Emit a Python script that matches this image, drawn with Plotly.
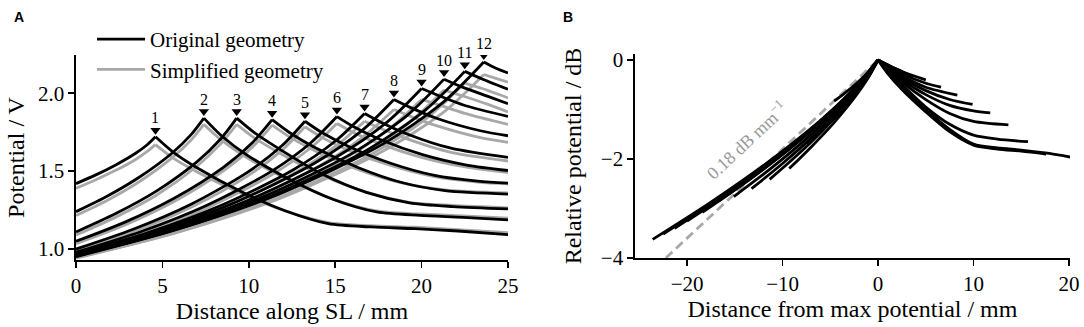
import numpy as np
import plotly.graph_objects as go

# ---------------- data ----------------
PEAK_LABELS = [str(i) for i in range(1, 13)]
PEAK_X = [4.6, 7.4, 9.3, 11.35, 13.25, 15.1, 16.7, 18.4, 20.0, 21.3, 22.5, 23.6]

RISE_X = [
    [0, 1.15, 2.3, 3.45, 4.14, 4.6],
    [0, 1.85, 3.7, 5.55, 6.66, 7.4],
    [0, 2.3, 4.65, 6.98, 8.37, 9.3],
    [0, 2.84, 5.68, 8.51, 10.22, 11.35],
    [0, 3.31, 6.63, 9.94, 11.93, 13.25],
    [0, 3.78, 7.55, 11.33, 13.59, 15.1],
    [0, 4.18, 8.35, 12.53, 15.03, 16.7],
    [0, 4.6, 9.2, 13.8, 16.56, 18.4],
    [0, 5, 10, 15, 18, 20],
    [0, 5.33, 10.65, 15.98, 19.17, 21.3],
    [0, 5.63, 11.25, 16.88, 20.25, 22.5],
    [0, 5.9, 11.8, 17.7, 21.24, 23.6],
]
FALL_X = [
    [4.6, 5.6, 7.1, 9.6, 12.1, 14.6, 17.1, 19.6, 22.1, 25],
    [7.4, 8.4, 9.9, 12.4, 14.9, 17.4, 19.9, 22.4, 25],
    [9.3, 10.3, 11.8, 14.3, 16.8, 19.3, 21.8, 25],
    [11.35, 12.35, 13.85, 16.35, 18.85, 21.35, 25],
    [13.25, 14.25, 15.75, 18.25, 20.75, 23.25, 25],
    [15.1, 16.1, 17.6, 20.1, 22.6, 25],
    [16.7, 17.7, 19.2, 21.7, 25],
    [18.4, 19.4, 20.9, 23.4, 25],
    [20, 21, 22.5, 25],
    [21.3, 22.3, 23.8, 25],
    [22.5, 23.5, 25],
    [23.6, 24.3, 25],
]

# Original geometry, potential in V
ORIG_RISE = [
    [1.42, 1.476, 1.540, 1.615, 1.671, 1.72],
    [1.24, 1.342, 1.464, 1.615, 1.734, 1.84],
    [1.11, 1.228, 1.372, 1.558, 1.706, 1.84],
    [1.05, 1.173, 1.326, 1.523, 1.684, 1.83],
    [1.00, 1.127, 1.286, 1.494, 1.664, 1.82],
    [0.98, 1.113, 1.280, 1.500, 1.682, 1.85],
    [0.97, 1.106, 1.278, 1.506, 1.695, 1.87],
    [0.965, 1.112, 1.299, 1.551, 1.762, 1.96],
    [0.96, 1.115, 1.315, 1.586, 1.814, 2.03],
    [0.955, 1.117, 1.327, 1.614, 1.858, 2.09],
    [0.952, 1.120, 1.338, 1.638, 1.895, 2.14],
    [0.955, 1.129, 1.356, 1.670, 1.941, 2.20],
]
ORIG_FALL = [
    [1.72, 1.624, 1.515, 1.366, 1.246, 1.163, 1.142, 1.131, 1.116, 1.093],
    [1.84, 1.729, 1.603, 1.445, 1.318, 1.238, 1.216, 1.204, 1.188],
    [1.84, 1.749, 1.640, 1.478, 1.364, 1.297, 1.273, 1.258],
    [1.83, 1.748, 1.650, 1.522, 1.427, 1.375, 1.353],
    [1.82, 1.746, 1.660, 1.549, 1.473, 1.436, 1.423],
    [1.85, 1.783, 1.703, 1.604, 1.539, 1.504],
    [1.87, 1.811, 1.737, 1.647, 1.588],
    [1.96, 1.906, 1.838, 1.759, 1.727],
    [2.03, 1.984, 1.921, 1.851],
    [2.09, 2.042, 1.981, 1.933],
    [2.14, 2.091, 2.025],
    [2.20, 2.160, 2.130],
]

# Simplified geometry, potential in V
SIMP_RISE = [
    [1.39, 1.445, 1.505, 1.575, 1.628, 1.67],
    [1.215, 1.315, 1.435, 1.585, 1.70, 1.80],
    [1.09, 1.205, 1.345, 1.53, 1.675, 1.80],
    [1.035, 1.155, 1.305, 1.50, 1.655, 1.795],
    [0.99, 1.112, 1.267, 1.47, 1.635, 1.785],
    [0.97, 1.098, 1.262, 1.477, 1.65, 1.805],
    [0.96, 1.09, 1.258, 1.48, 1.66, 1.82],
    [0.955, 1.095, 1.275, 1.515, 1.715, 1.895],
    [0.95, 1.097, 1.29, 1.547, 1.76, 1.96],
    [0.945, 1.098, 1.30, 1.572, 1.80, 2.02],
    [0.942, 1.10, 1.31, 1.595, 1.835, 2.065],
    [0.945, 1.108, 1.325, 1.625, 1.875, 2.12],
]
SIMP_FALL = [
    [1.67, 1.585, 1.49, 1.355, 1.245, 1.17, 1.15, 1.14, 1.125, 1.105],
    [1.80, 1.70, 1.585, 1.44, 1.32, 1.245, 1.225, 1.213, 1.198],
    [1.80, 1.715, 1.615, 1.47, 1.365, 1.30, 1.28, 1.265],
    [1.795, 1.72, 1.63, 1.51, 1.425, 1.38, 1.36],
    [1.785, 1.715, 1.635, 1.535, 1.465, 1.43, 1.418],
    [1.805, 1.745, 1.675, 1.585, 1.525, 1.49],
    [1.82, 1.77, 1.705, 1.62, 1.565],
    [1.895, 1.85, 1.79, 1.715, 1.685],
    [1.96, 1.925, 1.87, 1.80],
    [2.02, 1.985, 1.93, 1.88],
    [2.065, 2.03, 1.97],
    [2.12, 2.095, 2.07],
]

SLOPE_DB_PER_MM = 0.18
SLOPE_LABEL = "0.18 dB mm<sup>\u22121</sup>"

X_TICKS_A = [0, 5, 10, 15, 20, 25]
Y_TICKS_A = [1.0, 1.5, 2.0]
X_TICKS_B = [-20, -10, 0, 10, 20]
Y_TICKS_B = [-4, -2, 0]

# ---------------- styling ----------------
BLACK = "#000000"
GREY = "#a8a8a8"
SERIF = "Liberation Serif"
FS_TICK = 21
FS_TITLE = 24
FS_LEG = 21
LW = 2.8
ARROW_GAP_V = 0.042   # gap between a peak and its marker triangle (style)

fig = go.Figure()


def joined(a, b):
    return list(a) + [None] + list(b)


# Panel A: simplified (grey) first, original (black) on top
for k in range(len(PEAK_X)):
    fig.add_trace(go.Scatter(
        x=joined(RISE_X[k], FALL_X[k]), y=joined(SIMP_RISE[k], SIMP_FALL[k]),
        mode="lines", line=dict(color=GREY, width=LW, shape="spline", smoothing=0.8),
        name="Simplified geometry", legendgroup="simp", showlegend=(k == 0),
        legendrank=2, xaxis="x", yaxis="y", connectgaps=False, hoverinfo="skip"))
for k in range(len(PEAK_X)):
    fig.add_trace(go.Scatter(
        x=joined(RISE_X[k], FALL_X[k]), y=joined(ORIG_RISE[k], ORIG_FALL[k]),
        mode="lines", line=dict(color=BLACK, width=LW, shape="spline", smoothing=0.8),
        name="Original geometry", legendgroup="orig", showlegend=(k == 0),
        legendrank=1, xaxis="x", yaxis="y", connectgaps=False, hoverinfo="skip"))

# peak markers (triangles) just above each peak
peak_v = [r[-1] for r in ORIG_RISE]
fig.add_trace(go.Scatter(
    x=PEAK_X, y=[v + ARROW_GAP_V for v in peak_v], mode="markers",
    marker=dict(symbol="triangle-down", size=9, color=BLACK, line=dict(width=0)),
    showlegend=False, xaxis="x", yaxis="y", hoverinfo="skip"))

# Panel B: relative potential (dB) against distance from the maximum
dash_x = [-4 / SLOPE_DB_PER_MM, 0]
fig.add_trace(go.Scatter(
    x=dash_x, y=[SLOPE_DB_PER_MM * v for v in dash_x], mode="lines",
    line=dict(color=GREY, width=LW, dash="9px,5px"), showlegend=False,
    xaxis="x2", yaxis="y2", hoverinfo="skip"))
for k in range(len(PEAK_X)):
    vpk = ORIG_RISE[k][-1]
    rx = np.array(RISE_X[k]) - PEAK_X[k]
    fx = np.array(FALL_X[k]) - PEAK_X[k]
    ry = 10 * np.log10(np.array(ORIG_RISE[k]) / vpk)
    fy = 10 * np.log10(np.array(ORIG_FALL[k]) / vpk)
    fig.add_trace(go.Scatter(
        x=joined(rx, fx), y=joined(ry, fy), mode="lines",
        line=dict(color=BLACK, width=LW, shape="spline", smoothing=0.8),
        showlegend=False, xaxis="x2", yaxis="y2", connectgaps=False, hoverinfo="skip"))

annotations = []
for k, lab in enumerate(PEAK_LABELS):
    annotations.append(dict(x=PEAK_X[k], y=peak_v[k], xref="x", yref="y", text=lab,
                            showarrow=False, yshift=19,
                            font=dict(size=16, color=BLACK, family=SERIF)))

annotations.append(dict(x=-13.8, y=-1.62, xref="x2", yref="y2", text=SLOPE_LABEL,
                        showarrow=False, textangle=-43,
                        font=dict(size=18, color="#999999", family=SERIF)))
annotations.append(dict(x=12 / 1084, y=1 - 7 / 327, xref="paper", yref="paper",
                        text="<b>A</b>", showarrow=False, xanchor="left", yanchor="top",
                        font=dict(size=14, color=BLACK, family="Liberation Sans")))
annotations.append(dict(x=561 / 1084, y=1 - 7 / 327, xref="paper", yref="paper",
                        text="<b>B</b>", showarrow=False, xanchor="left", yanchor="top",
                        font=dict(size=14, color=BLACK, family="Liberation Sans")))

axis_common = dict(showgrid=False, zeroline=False, showline=True, linecolor=BLACK,
                   linewidth=1.6, ticks="outside", ticklen=6, tickwidth=1.6,
                   tickcolor=BLACK, tickfont=dict(family=SERIF, size=FS_TICK, color=BLACK),
                   mirror=False, automargin=False)

fig.update_layout(
    template="none",
    width=1084, height=327, margin=dict(l=0, r=0, t=0, b=0, pad=0),
    paper_bgcolor="white", plot_bgcolor="white",
    font=dict(family=SERIF, size=FS_TICK, color=BLACK),
    xaxis=dict(domain=[76 / 1084, 508 / 1084], range=[0, 25], tickvals=X_TICKS_A,
               anchor="y",
               title=dict(text="Distance along SL / mm", standoff=0,
                          font=dict(family=SERIF, size=FS_TITLE)), **axis_common),
    yaxis=dict(domain=[(327 - 260) / 327, (327 - 55) / 327], range=[0.93, 2.245],
               tickvals=Y_TICKS_A, tickformat=".1f", anchor="x",
               title=dict(text="Potential / V", standoff=6,
                          font=dict(family=SERIF, size=FS_TITLE)), **axis_common),
    xaxis2=dict(domain=[635 / 1084, 1070 / 1084], range=[-25.45, 20.1],
                tickvals=X_TICKS_B, anchor="y2",
                title=dict(text="Distance from max potential / mm", standoff=0,
                           font=dict(family=SERIF, size=FS_TITLE)), **axis_common),
    yaxis2=dict(domain=[(327 - 258) / 327, (327 - 54) / 327], range=[-4.0, 0.12],
                tickvals=Y_TICKS_B, anchor="x2",
                title=dict(text="Relative potential / dB", standoff=12,
                           font=dict(family=SERIF, size=FS_TITLE)), **axis_common),
    legend=dict(x=92 / 1084, y=1 - 19 / 327, xanchor="left", yanchor="top",
                bgcolor="rgba(0,0,0,0)",
                font=dict(family=SERIF, size=FS_LEG, color=BLACK), tracegroupgap=0,
                itemwidth=48, traceorder="normal"),
    annotations=annotations,
    hovermode=False,
)

fig.write_html("out.html", config={"displayModeBar": False, "staticPlot": True},
               post_script="document.body.style.margin='0px';")
